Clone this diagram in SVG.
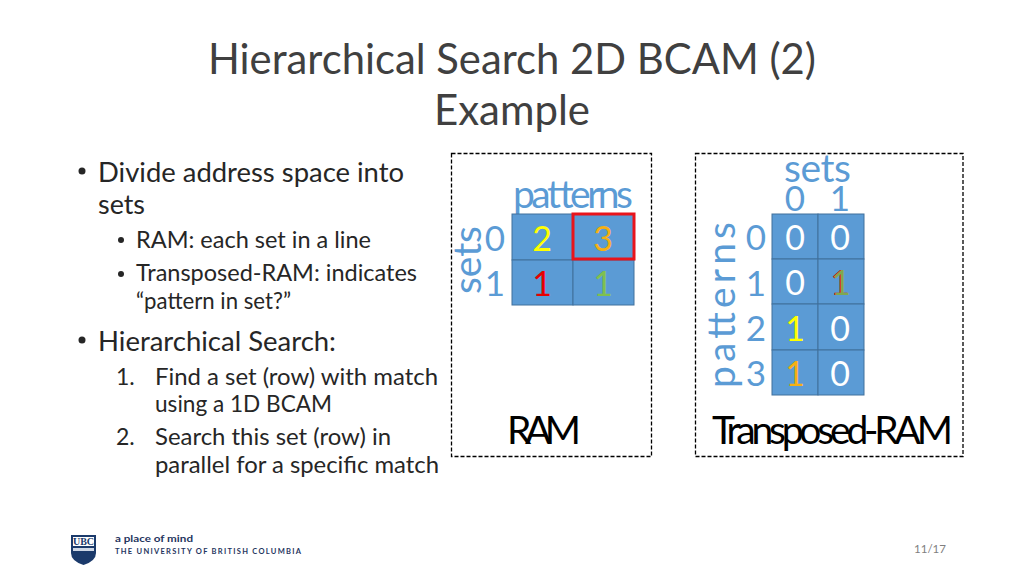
<svg xmlns="http://www.w3.org/2000/svg" width="1024" height="576" viewBox="0 0 1024 576">
<style>
text{font-family:Lato,"Liberation Sans",sans-serif}
.title{font-size:43px;fill:#404040}
.b1{font-size:27px;fill:#262626}
.b2{font-size:23px;fill:#262626}
.hd{font-size:39px;fill:#5b9bd5}
.cell{font-size:34px;text-anchor:middle;fill:#fff}
.num{font-size:35px;text-anchor:middle;fill:#5b9bd5}
.c{fill:#5b9bd5;stroke:#41719c;stroke-width:1}
.box{fill:none;stroke:#000;stroke-width:1.3;stroke-dasharray:4 2}
.lbl{font-size:39px;fill:#000}
</style>
<rect width="1024" height="576" fill="#fff"/>
<g id="title">
<text class="title" x="208" y="74" textLength="608" lengthAdjust="spacingAndGlyphs">Hierarchical Search 2D BCAM (2)</text>
<text class="title" x="434" y="125" textLength="156" lengthAdjust="spacingAndGlyphs">Example</text>
</g>
<g id="bullets">
<circle cx="82" cy="171" r="3.500" fill="#262626"/>
<text class="b1" x="98" y="182" textLength="306" lengthAdjust="spacingAndGlyphs">Divide address space into</text>
<text class="b1" x="98" y="214" textLength="47" lengthAdjust="spacingAndGlyphs">sets</text>
<circle cx="121" cy="240" r="3" fill="#262626"/>
<text class="b2" x="136" y="248" textLength="235" lengthAdjust="spacingAndGlyphs">RAM: each set in a line</text>
<circle cx="121" cy="274" r="3" fill="#262626"/>
<text class="b2" x="136" y="281" textLength="281" lengthAdjust="spacingAndGlyphs">Transposed-RAM: indicates</text>
<text class="b2" x="136" y="309" textLength="155" lengthAdjust="spacingAndGlyphs">“pattern in set?”</text>
<circle cx="82" cy="340" r="3.500" fill="#262626"/>
<text class="b1" x="98" y="351" textLength="238" lengthAdjust="spacingAndGlyphs">Hierarchical Search:</text>
<text class="b2" x="116" y="385">1.</text>
<text class="b2" x="155" y="385" textLength="283" lengthAdjust="spacingAndGlyphs">Find a set (row) with match</text>
<text class="b2" x="155" y="412" textLength="177" lengthAdjust="spacingAndGlyphs">using a 1D BCAM</text>
<text class="b2" x="116" y="445">2.</text>
<text class="b2" x="155" y="445" textLength="236" lengthAdjust="spacingAndGlyphs">Search this set (row) in</text>
<text class="b2" x="155" y="473" textLength="284" lengthAdjust="spacingAndGlyphs">parallel for a specific match</text>
</g>
<g id="ram">
<rect class="box" x="451.5" y="153.5" width="200" height="303"/>
<text class="hd" x="513" y="208" textLength="120" lengthAdjust="spacing">patterns</text>
<text class="hd" transform="translate(481 294) rotate(-90)" textLength="68" lengthAdjust="spacing">sets</text>
<text class="num" x="495" y="251">0</text>
<text class="num" x="495" y="296">1</text>
<rect class="c" x="512" y="214" width="61" height="46"/>
<rect class="c" x="573" y="214" width="61" height="46"/>
<rect class="c" x="512" y="260" width="61" height="45"/>
<rect class="c" x="573" y="260" width="61" height="45"/>
<text class="cell" x="542" y="251" style="fill:#ffff00">2</text>
<text class="cell" x="603" y="251" style="fill:#f5b013">3</text>
<text class="cell" x="542" y="296" style="fill:#e60000">1</text>
<text class="cell" x="603" y="296" style="fill:#7fc04f">1</text>
<rect x="573" y="214" width="61" height="45" fill="none" stroke="#e8141c" stroke-width="3"/>
<text class="lbl" x="507" y="444" textLength="74" lengthAdjust="spacing">RAM</text>
</g>
<g id="transposed-ram">
<rect class="box" x="695.5" y="153.5" width="267.5" height="303"/>
<text class="hd" x="784" y="182" textLength="67" lengthAdjust="spacing">sets</text>
<text class="num" x="795" y="211">0</text>
<text class="num" x="840" y="211">1</text>
<text class="hd" transform="translate(735 388) rotate(-90)" textLength="166" lengthAdjust="spacing">patterns</text>
<text class="num" x="756" y="250">0</text>
<text class="num" x="756" y="296">1</text>
<text class="num" x="756" y="341">2</text>
<text class="num" x="756" y="386">3</text>
<rect class="c" x="772" y="214" width="46" height="45"/>
<rect class="c" x="818" y="214" width="46" height="45"/>
<rect class="c" x="772" y="259" width="46" height="45"/>
<rect class="c" x="818" y="259" width="46" height="45"/>
<rect class="c" x="772" y="304" width="46" height="46"/>
<rect class="c" x="818" y="304" width="46" height="46"/>
<rect class="c" x="772" y="350" width="46" height="45"/>
<rect class="c" x="818" y="350" width="46" height="45"/>
<text class="cell" x="795" y="250">0</text>
<text class="cell" x="840" y="250">0</text>
<text class="cell" x="795" y="295">0</text>
<text class="cell" x="840" y="295" style="fill:#e60000">1</text>
<text class="cell" x="841" y="295" style="fill:#7fa84f">1</text>
<text class="cell" x="795" y="341" style="fill:#ffff00">1</text>
<text class="cell" x="840" y="341">0</text>
<text class="cell" x="795" y="386" style="fill:#f5b013">1</text>
<text class="cell" x="840" y="386">0</text>
<text class="lbl" x="712" y="444" textLength="241" lengthAdjust="spacing">Transposed-RAM</text>
</g>
<g id="footer">
<path d="M71 535H96V553Q96 561 83.500 565Q71 561 71 553Z" fill="#1b3a6b"/>
<rect x="73" y="537" width="21" height="9" fill="#fff"/>
<text x="83.500" y="545" text-anchor="middle" style="font-family:'Liberation Serif',serif;font-size:10px;font-weight:bold" fill="#1b3a6b">UBC</text>
<rect x="73" y="548" width="21" height="3" fill="#cfd8e6"/>
<text x="115" y="542" textLength="78" lengthAdjust="spacingAndGlyphs" style="font-size:9.500px;font-weight:bold" fill="#1f3560">a place of mind</text>
<text x="115" y="554" textLength="186" lengthAdjust="spacing" style="font-size:7.500px;font-weight:bold" fill="#1f3560">THE UNIVERSITY OF BRITISH COLUMBIA</text>
<text x="914" y="553" textLength="32" lengthAdjust="spacingAndGlyphs" style="font-size:11.500px" fill="#7f7f7f">11/17</text>
</g>
</svg>
